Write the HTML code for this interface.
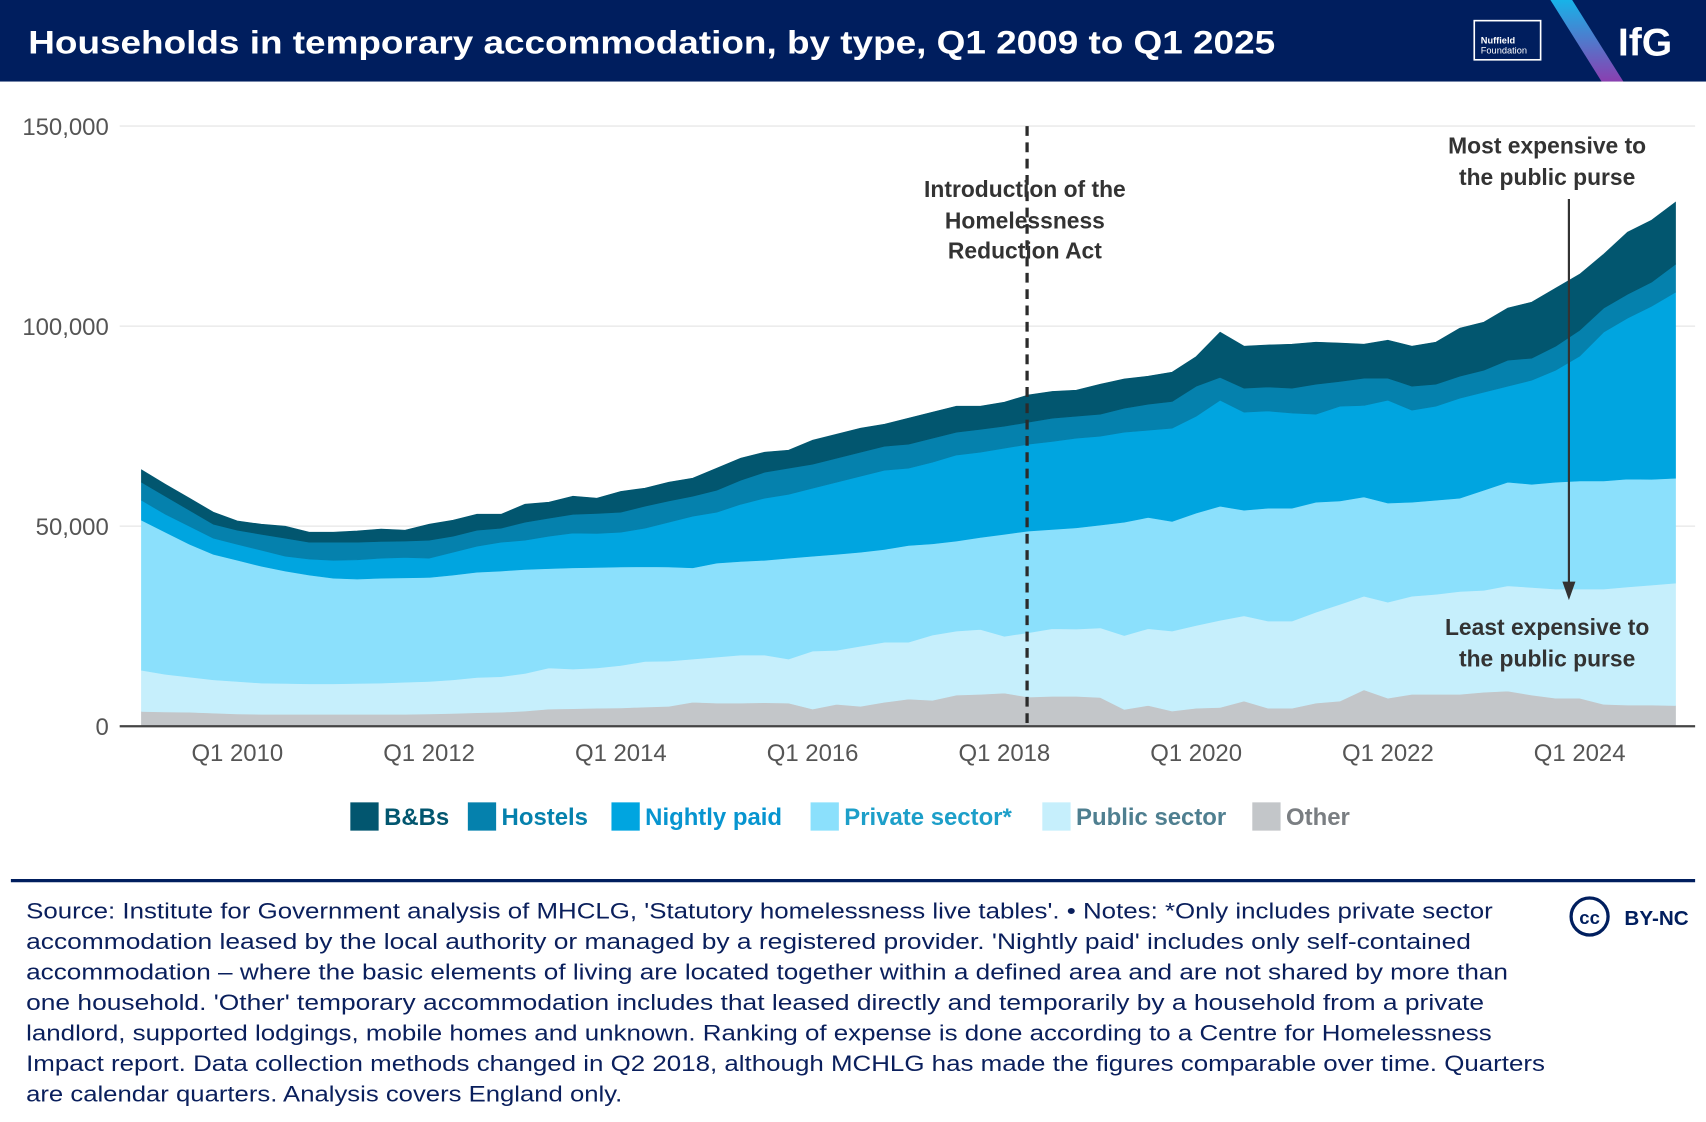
<!DOCTYPE html>
<html><head><meta charset="utf-8">
<style>
html,body{margin:0;padding:0;background:#fff;}
svg{display:block;font-family:"Liberation Sans",sans-serif;}
</style></head>
<body>
<svg id="chart" width="1706" height="1122" viewBox="0 0 1568 1032" preserveAspectRatio="none" xmlns="http://www.w3.org/2000/svg">
<defs>
<linearGradient id="stripe" x1="0" y1="0" x2="0" y2="1">
<stop offset="0" stop-color="#17b3e8"/><stop offset="1" stop-color="#8a3fb0"/>
</linearGradient>
</defs>
<rect x="0" y="0" width="1568" height="75" fill="#001e5e"/>
<text x="26" y="49" font-size="30" font-weight="bold" fill="#fff" textLength="1146" lengthAdjust="spacingAndGlyphs">Households in temporary accommodation, by type, Q1 2009 to Q1 2025</text>
<g>
<rect x="1355" y="19" width="61" height="36" fill="none" stroke="#fff" stroke-width="1.5"/>
<text x="1361" y="40" font-size="8.5" font-weight="bold" fill="#fff">Nuffield</text>
<text x="1361" y="49" font-size="8.5" fill="#fff">Foundation</text>
</g>
<polygon points="1425,0 1445,0 1492,75 1472,75" fill="url(#stripe)"/>
<text x="1487" y="51" font-size="36" font-weight="bold" fill="#fff">IfG</text>

<g id="grid"></g>
<g id="areas"></g>
<g id="axes"></g>

<line x1="944" y1="116" x2="944" y2="668" stroke="#2b2b2b" stroke-width="3" stroke-dasharray="9,6"/>
<g font-size="21" font-weight="bold" fill="#333" text-anchor="middle">
<text x="942" y="181">Introduction of the</text>
<text x="942" y="210">Homelessness</text>
<text x="942" y="238">Reduction Act</text>
</g>
<g font-size="21" font-weight="bold" fill="#333" text-anchor="middle">
<text x="1422" y="141">Most expensive to</text>
<text x="1422" y="170">the public purse</text>
<text x="1422" y="584">Least expensive to</text>
<text x="1422" y="613">the public purse</text>
</g>
<line x1="1442" y1="183" x2="1442" y2="537" stroke="#333" stroke-width="2"/>
<polygon points="1436,535 1448,535 1442,552" fill="#333"/>

<g id="legend"></g>

<line x1="10" y1="810" x2="1558" y2="810" stroke="#001e5e" stroke-width="3"/>
<g font-size="20" fill="#0a1f5c">
<text x="24" y="845" textLength="1348" lengthAdjust="spacingAndGlyphs">Source: Institute for Government analysis of MHCLG, 'Statutory homelessness live tables'. • Notes: *Only includes private sector</text>
<text x="24" y="873" textLength="1328" lengthAdjust="spacingAndGlyphs">accommodation leased by the local authority or managed by a registered provider. 'Nightly paid' includes only self-contained</text>
<text x="24" y="901" textLength="1362" lengthAdjust="spacingAndGlyphs">accommodation – where the basic elements of living are located together within a defined area and are not shared by more than</text>
<text x="24" y="929" textLength="1340" lengthAdjust="spacingAndGlyphs">one household. 'Other' temporary accommodation includes that leased directly and temporarily by a household from a private</text>
<text x="24" y="957" textLength="1347" lengthAdjust="spacingAndGlyphs">landlord, supported lodgings, mobile homes and unknown. Ranking of expense is done according to a Centre for Homelessness</text>
<text x="24" y="985" textLength="1396" lengthAdjust="spacingAndGlyphs">Impact report. Data collection methods changed in Q2 2018, although MCHLG has made the figures comparable over time. Quarters</text>
<text x="24" y="1013" textLength="548" lengthAdjust="spacingAndGlyphs">are calendar quarters. Analysis covers England only.</text>
</g>
<g>
<circle cx="1461" cy="843" r="17" fill="none" stroke="#001e5e" stroke-width="3"/>
<text x="1461" y="850" font-size="17" font-weight="bold" fill="#001e5e" text-anchor="middle">cc</text>
<text x="1493" y="851" font-size="19" font-weight="bold" fill="#001e5e">BY-NC</text>
</g>
</svg>
<script>
// Quarterly values, Q1 2009 .. Q1 2025 (thousands of households)
const quarters = 65;
const other = [3.7,3.6,3.5,3.3, 3.1,3.0,3.0,3.0, 3.0,3.0,3.0,3.0, 3.1,3.2,3.4,3.5, 3.8,4.3,4.4,4.5, 4.6,4.8,5.0,6.0, 5.8,5.8,5.9,5.8, 4.3,5.5,5.0,6.0, 6.8,6.5,7.8,8.0, 8.3,7.3,7.5,7.5, 7.2,4.2,5.2,3.8, 4.5,4.7,6.3,4.5, 4.5,5.8,6.3,9.1, 7.0,8.0,8.0,8.0, 8.5,8.8,7.8,7.0, 7.0,5.5,5.3,5.3, 5.2];
const publicSector = [10.3,9.4,8.8,8.3, 8.1,7.8,7.7,7.6, 7.6,7.7,7.8,8.0, 8.1,8.4,8.8,8.9, 9.4,10.3,9.9,10.1, 10.6,11.4,11.3,10.8, 11.5,12.0,11.9,11.0, 14.5,13.5,15.0,15.0, 14.2,16.3,16.0,16.2, 14.2,16.1,16.9,16.8, 17.4,18.5,19.2,20.0, 20.7,21.8,21.3,21.8, 21.8,22.7,24.2,23.4, 24.0,24.5,25.0,25.7, 25.5,26.3,26.9,27.3, 27.3,28.8,29.5,30.0, 30.6];
const privateSector = [37.5,35.5,33.2,31.4, 30.3,29.2,28.1,27.2, 26.4,26.1,26.2,26.1, 26.0,26.2,26.3,26.4, 26.0,24.8,25.3,25.1, 24.6,23.7,23.5,22.8, 23.5,23.4,23.7,25.2, 23.7,24.0,23.5,23.2, 24.2,22.8,22.5,23.0, 25.5,25.4,24.8,25.3, 25.7,28.3,27.8,27.4, 28.1,28.5,26.4,28.2, 28.2,27.5,25.8,24.8, 24.8,23.5,23.5,23.3, 25.0,25.9,25.8,26.7, 27.0,27.0,27.0,26.4, 26.2];
const nightlyPaid = [5.0,4.5,4.5,4.0, 4.0,4.0,3.7,4.0, 4.5,4.8,5.0,5.1, 4.8,5.7,6.5,7.2, 7.3,8.1,8.7,8.5, 8.7,9.6,11.2,12.9, 12.7,14.3,15.5,16.0, 17.0,18.0,19.0,19.8, 19.3,20.4,21.5,21.3, 21.5,21.7,22.0,22.4, 22.2,22.5,21.8,23.3, 24.2,26.5,24.5,24.3, 23.8,22.0,23.7,22.9, 25.7,23.0,23.5,25.0, 24.5,24.0,26.0,28.0, 31.2,37.2,40.2,43.3, 46.5];
const hostels = [4.5,4.5,4.0,3.5, 3.5,4.0,4.5,4.2, 4.5,4.4,4.2,4.1, 4.5,4.0,4.0,3.5, 4.5,4.5,4.7,5.0, 5.0,5.5,5.3,5.0, 5.5,6.0,6.5,6.5, 6.0,6.0,6.0,6.0, 6.0,6.0,5.7,5.7, 5.5,5.5,5.8,5.5, 5.5,6.0,6.5,6.7, 7.5,5.7,6.0,6.0, 6.2,7.5,6.2,6.8, 5.5,6.0,5.5,5.5, 5.5,6.5,5.5,6.0, 6.5,6.0,6.0,6.0, 7.0];
const bnbs = [3.1,3.0,3.0,3.0, 2.3,2.5,3.0,2.5, 2.5,2.8,3.1,2.7, 4.0,4.0,4.0,3.5, 4.5,4.0,4.5,3.8, 5.2,4.5,4.7,4.5, 5.5,5.5,5.0,4.5, 6.0,6.0,6.0,5.5, 6.5,6.5,6.5,5.8, 6.0,6.8,6.7,6.5, 7.5,7.3,7.0,7.3, 7.4,11.3,10.5,10.5, 11.0,10.5,9.6,8.5, 9.5,10.0,10.5,12.0, 12.0,13.0,14.0,14.5, 14.0,13.5,15.5,15.5, 15.5];
const seriesNames = ["Other","Public sector","Private sector*","Nightly paid","Hostels","B&Bs"];
const yTicks = [0,50000,100000,150000];
const yTickLabels = ["0","50,000","100,000","150,000"];
const xTickIndex = [4,12,20,28,36,44,52,60];
const xTickLabels = ["Q1 2010","Q1 2012","Q1 2014","Q1 2016","Q1 2018","Q1 2020","Q1 2022","Q1 2024"];

const NS = "http://www.w3.org/2000/svg";
const colors = ["#c3c6c9","#c6effc","#8be0fc","#00a5e0","#0581ad","#02566f"];
const textColors = ["#7a7e82","#4f7f90","#1d9fc9","#0795d0","#0581ad","#02566f"];
const X0 = 130, X1 = 1540, Y0 = 668, Y1 = 116;
const xs = i => X0 + (X1 - X0) * i / (quarters - 1);
const ys = v => Y0 - (Y0 - Y1) * v / 150000;
function mk(tag, attrs, parent){ const e = document.createElementNS(NS, tag); for (const k in attrs) e.setAttribute(k, attrs[k]); parent.appendChild(e); return e; }

const grid = document.getElementById('grid');
const axes = document.getElementById('axes');
yTicks.forEach((t, k) => {
  if (t > 0) {
    const gl = mk('line', {x1:110, x2:1558, y1:ys(t), y2:ys(t), stroke:'#ececec', 'stroke-width':1.5}, grid);
    
    
  }
  const tl = mk('text', {x:100, y:ys(t)+8, 'font-size':22, fill:'#555', 'text-anchor':'end'}, axes);
  tl.textContent = yTickLabels[k];
  
  
});

const series = [other, publicSector, privateSector, nightlyPaid, hostels, bnbs];
const areas = document.getElementById('areas');
let base = new Array(quarters).fill(0);
series.forEach((s, k) => {
  const top = base.map((b, i) => b + s[i] * 1000);
  let d = 'M' + top.map((v, i) => xs(i).toFixed(1) + ',' + ys(v).toFixed(1)).join('L');
  for (let i = quarters - 1; i >= 0; i--) d += 'L' + xs(i).toFixed(1) + ',' + ys(base[i]).toFixed(1);
  d += 'Z';
  const p = mk('path', {d:d, fill:colors[k], stroke:colors[k], 'stroke-width':0.6}, areas);
  
  
  base = top;
});

const axisLine = mk('line', {x1:110, x2:1558, y1:Y0, y2:Y0, stroke:'#444', 'stroke-width':2}, axes);


xTickIndex.forEach((qi, k) => {
  const tl = mk('text', {x:xs(qi), y:700, 'font-size':22, fill:'#555', 'text-anchor':'middle'}, axes);
  tl.textContent = xTickLabels[k];
  
  
});

const legend = document.getElementById('legend');
const legendOrder = [5,4,3,2,1,0];
const legendX = [322,430,562,745,958,1151];
legendOrder.forEach((k, j) => {
  const sw = mk('rect', {x:legendX[j], y:738, width:26, height:26, fill:colors[k]}, legend);
  
  
  const lt = mk('text', {x:legendX[j]+31, y:759, 'font-size':22, 'font-weight':'bold', fill:textColors[k]}, legend);
  lt.textContent = seriesNames[k];
  
  
});
</script>
</body></html>
